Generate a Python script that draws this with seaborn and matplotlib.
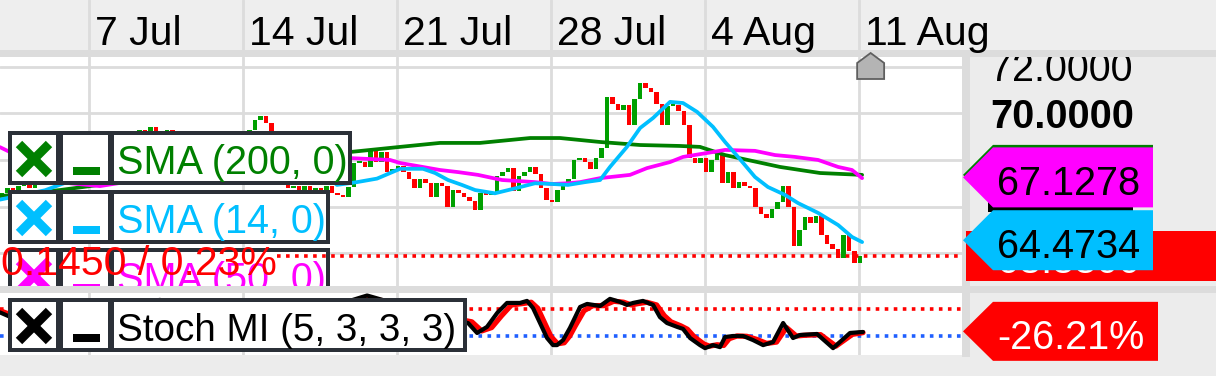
import matplotlib
matplotlib.use("Agg")
import matplotlib.pyplot as plt
import matplotlib.patches as mpatches
import pandas as pd
import seaborn as sns

# ---------------- data ----------------
# x axis is "days since 30 Jun"
date_ticks = [7, 14, 21, 28, 35, 42]
date_labels = ['7 Jul', '14 Jul', '21 Jul', '28 Jul', '4 Aug', '11 Aug']
price_grid = [64, 66, 68, 70, 72]
price_labels = ['72.0000', '70.0000']

first_open = 66.4
closes = [66.6, 66.8, 66.5, 66.9, 67.1, 66.8, 67.2, 67.5, 67.3, 67.8, 68.0,
          67.9, 68.3, 68.1, 68.6, 68.4, 68.8, 68.5, 68.9, 68.7, 69.0, 68.6, 68.9, 69.1, 68.8, 69.3,
          69.2, 69.4, 68.9, 69.2, 69.3, 68.9, 68.7, 69.0, 68.8, 68.6, 68.9, 68.7, 69.0, 68.8, 69.1,
          68.9, 69.2, 69.0, 68.8, 69.3, 69.7, 69.9,
          69.6, 68.4, 67.6, 67.0, 66.8, 66.9, 66.7, 66.9, 66.6, 66.8, 66.7, 66.9, 66.6, 66.5,
          66.4, 66.85, 67.85, 67.9, 67.7, 68.4, 67.9, 68.35, 67.5, 67.6, 67.75, 67.5, 67.2, 66.8,
          67.2, 67.0, 66.4, 67.0, 66.9, 66.0,
          66.7, 66.6, 66.4, 66.25, 65.85, 66.6, 66.5, 66.6, 67.3, 67.5, 67.65, 66.65, 67.3, 67.5,
          67.7, 67.4, 66.8, 66.3, 66.2, 66.7, 66.9, 67.2, 68.0, 68.1, 67.9, 67.6, 68.1, 68.5,
          70.7, 70.4, 70.15, 70.35, 69.5, 70.6, 71.3, 71.1, 70.9, 70.4, 69.5, 70.3, 70.35, 70.1,
          69.5, 68.1, 67.85, 68.1, 67.5, 68.0, 68.3,
          67.0, 67.5, 66.8, 67.05, 66.9, 66.8, 66.0, 65.7, 65.5, 65.9, 66.2, 66.9, 66.0, 64.3,
          65.0, 65.55, 65.3, 65.6, 64.8, 64.4, 64.2, 63.8, 64.8, 64.1, 63.6, 63.88]
bar_step = 0.25
last_bar_day = 42.05

sma200_day = [2.95, 5.68, 8.41, 12.05, 15.68, 18.86, 21.14, 22.95, 24.77, 27.05, 28.41, 30.23,
              32.05, 33.86, 34.77, 35.91, 38.41, 40.23, 42.14]
sma200_val = [66.45, 66.71, 67.05, 67.48, 67.91, 68.34, 68.56, 68.73, 68.73, 68.94, 68.94, 68.77,
              68.64, 68.60, 68.56, 68.21, 67.70, 67.44, 67.36]

sma14_day = [2.95, 5.0, 7.0, 9.0, 11.0, 13.0, 15.0, 16.0, 17.0, 18.27, 19.18, 20.09, 21.14, 22.18,
             22.73, 23.32, 23.95, 24.55, 25.45, 26.36, 27.27, 28.05, 28.77, 29.55, 30.23, 30.68,
             31.45, 32.05, 32.64, 33.41, 34.0, 34.64, 35.36, 35.91, 36.5, 37.27, 37.86, 38.64,
             39.23, 40.14, 41.05, 41.68, 41.95, 42.14]
sma14_val = [66.3, 66.7, 67.4, 68.2, 68.7, 68.9, 69.0, 68.8, 68.0, 66.93, 67.05, 67.2, 67.62, 67.62,
             67.44, 67.14, 66.93, 66.71, 66.57, 66.78, 67.0, 66.97, 66.93, 67.05, 67.14, 67.7,
             68.56, 69.37, 69.8, 70.49, 70.44, 70.06, 69.42, 68.77, 68.13, 67.27, 66.84, 66.5,
             66.15, 65.73, 65.21, 64.7, 64.57, 64.48]

sma50_day = [2.95, 3.86, 5.0, 6.14, 7.5, 8.64, 10.5, 12.05, 14.5, 16.6, 18.86, 20.68, 21.14, 22.95,
             23.77, 24.68, 25.77, 27.27, 28.05, 28.77, 29.32, 30.23, 31.59, 32.36, 33.41, 34.0,
             35.36, 35.91, 37.27, 38.18, 39.09, 40.14, 41.05, 41.68, 42.14]
sma50_val = [68.55, 68.13, 67.57, 67.0, 66.88, 67.05, 67.35, 67.6, 67.9, 68.05, 68.08, 68.0, 67.87,
             67.57, 67.48, 67.36, 67.14, 67.05, 66.97, 67.0, 67.05, 67.22, 67.36, 67.65, 67.91,
             68.13, 68.34, 68.43, 68.39, 68.21, 68.13, 68.0, 67.7, 67.57, 67.22]

smi_day = [2.95, 4.77, 6.59, 8.41, 10.23, 12.05, 13.86, 15.68, 17.5, 19.64, 21.14, 22.95, 24.23,
           24.64, 25.09, 25.55, 26.0, 26.59, 26.91, 27.18, 27.5, 27.82, 28.09, 28.27, 28.55, 28.86,
           29.32, 29.64, 30.23, 30.68, 31.14, 31.45, 31.73, 32.18, 32.64, 32.95, 33.27, 33.73, 34.0,
           34.32, 34.77, 35.0, 35.36, 35.68, 35.91, 36.27, 36.73, 37.18, 37.64, 38.09, 38.55, 39.0,
           39.32, 40.09, 40.82, 41.59, 42.18]
smi_val = [30, -22, 7, 52, 67, 22, -37, -22, 37, 80, 52, 13, -1.5, -31, -13, 28, 58, 58, 64, 43,
           -1.5, -46, -67, -67, -52, -16, 46, 55, 49, 70, 61, 52, 58, 64, 52, 16, -1.5, -13, -19,
           -46, -67, -76, -67, -73, -43, -40, -40, -52, -67, -58, -1.5, -46, -37, -34, -76, -31, -28]
sig_day = [2.95, 5.0, 6.8, 8.6, 10.5, 12.3, 14.0, 15.9, 17.7, 19.8, 21.3, 23.1, 24.4, 24.85, 25.3,
           25.75, 26.2, 26.8, 27.1, 27.4, 27.7, 28.0, 28.3, 28.6, 28.85, 29.1, 29.5, 29.9, 30.4,
           30.85, 31.3, 31.65, 31.95, 32.35, 32.8, 33.15, 33.45, 33.9, 34.2, 34.5, 34.95, 35.2,
           35.55, 35.85, 36.1, 36.45, 36.9, 37.35, 37.8, 38.25, 38.7, 39.15, 39.5, 40.25, 40.95,
           41.7, 42.18]
sig_val = [35, -15, 0, 45, 62, 28, -30, -25, 30, 70, 55, 18, 2, -25, -15, 20, 52, 57, 60, 42, 0,
           -42, -63, -60, -40, -10, 35, 50, 50, 63, 60, 52, 56, 60, 52, 20, 2, -10, -20, -42, -64,
           -70, -66, -68, -48, -40, -41, -50, -62, -58, -15, -40, -38, -36, -70, -35, -30]
smi_levels = [40, -40]

change_text = '0.1450 / 0.23%'
tag_sma50 = '67.1278'
tag_sma14 = '64.4734'
tag_price = '63.8800'
tag_smi = '-26.21%'

# ---------------- styling ----------------
sns.set_style('white')
plt.rcParams['font.family'] = ['Liberation Sans', 'DejaVu Sans']

W, H = 1216, 376
GRID = '#dcdcdc'
GREEN_C, RED_C = '#00a000', '#ff0000'
BOX = '#2b3038'
DOTS = (1, 1.5)

fig = plt.figure(figsize=(W / 100, H / 100), dpi=100, facecolor='#ececec')
ax = fig.add_axes([0, (H - 286) / H, 962 / W, 229 / H])
ax2 = fig.add_axes([0, (H - 355) / H, 962 / W, 62 / H])
ov = fig.add_axes([0, 0, 1, 1], zorder=5)
ov.set_xlim(0, W)
ov.set_ylim(H, 0)
ov.axis('off')
ov.patch.set_alpha(0)

for a in (ax, ax2):
    a.set_facecolor('white')
    a.set_xticks([])
    a.set_yticks([])
    for s in a.spines.values():
        s.set_visible(False)
    a.set_xlim(2.9545, 46.68)
    for d in date_ticks:
        a.axvline(d, color=GRID, lw=2, zorder=1)
ax.set_ylim(62.597, 72.413)
ax2.set_ylim(-96.3, 87.4)
for p in price_grid:
    ax.axhline(p, color=GRID, lw=2, zorder=1)

# candles
n = len(closes)
bars = pd.DataFrame({'close': closes})
bars['day'] = [last_bar_day - bar_step * (n - 1 - i) for i in range(n)]
bars['open'] = [first_open] + closes[:-1]
bars['bottom'] = bars[['open', 'close']].min(axis=1)
bars['height'] = (bars['close'] - bars['open']).abs().clip(lower=0.09)
bars['color'] = [GREEN_C if c >= o else RED_C for o, c in zip(bars['open'], bars['close'])]
ax.bar(bars['day'], bars['height'], bottom=bars['bottom'], width=0.2,
       color=bars['color'], linewidth=0, zorder=3)

sns.lineplot(x=sma200_day, y=sma200_val, ax=ax, color='#008000', lw=2.7, estimator=None, sort=False, zorder=4)
sns.lineplot(x=sma50_day, y=sma50_val, ax=ax, color='#ff00ff', lw=2.7, estimator=None, sort=False, zorder=5)
sns.lineplot(x=sma14_day, y=sma14_val, ax=ax, color='#00bfff', lw=2.7, estimator=None, sort=False, zorder=6)
ax.axhline(closes[-1], xmin=277 / 962, color=RED_C, lw=2.6, dashes=DOTS, zorder=25)

ax2.axhline(smi_levels[0], color=RED_C, lw=2.6, dashes=DOTS, zorder=2)
ax2.axhline(smi_levels[1], color='#1f5fff', lw=2.6, dashes=DOTS, zorder=2)
sns.lineplot(x=sig_day, y=sig_val, ax=ax2, color=RED_C, lw=3.8, estimator=None, sort=False, zorder=3)
sns.lineplot(x=smi_day, y=smi_val, ax=ax2, color='black', lw=3.0, estimator=None, sort=False, zorder=4)
for a in (ax, ax2):
    a.set_xlabel('')
    a.set_ylabel('')


def to_px(a, x, y):
    X, Y = a.transData.transform((x, y))
    return X, H - Y


T = ov.transData

# legend boxes (drawn inside their panes so they get clipped)
def legend_box(a, top, right, color, label, fs):
    a.add_patch(mpatches.Rectangle((8, top), right - 8, 54, transform=T, fc=BOX, ec='none', zorder=20))
    for x0, x1 in [(12, 56), (63, 108), (114, right - 4)]:
        a.add_patch(mpatches.Rectangle((x0, top + 4), x1 - x0, 46, transform=T, fc='white', ec='none', zorder=21))
    a.plot([19, 49], [top + 13, top + 43], transform=T, color=color, lw=6.5, solid_capstyle='butt', zorder=22)
    a.plot([19, 49], [top + 43, top + 13], transform=T, color=color, lw=6.5, solid_capstyle='butt', zorder=22)
    a.add_patch(mpatches.Rectangle((73, top + 36), 27, 8, transform=T, fc=color, ec='none', zorder=22))
    a.text(117, top + 43, label, transform=T, color=color, fontsize=fs, va='baseline', ha='left', zorder=23)


legend_box(ax, 131, 352, '#008000', 'SMA (200, 0)', 28.5)
legend_box(ax, 190, 330, '#00bfff', 'SMA (14, 0)', 28.5)
legend_box(ax, 248, 330, '#ff00ff', 'SMA (50, 0)', 28.5)
legend_box(ax2, 298, 467, 'black', 'Stoch MI (5, 3, 3, 3)', 27.8)
ax.text(1, 275, change_text, transform=T, color=RED_C, fontsize=29.5, va='baseline', ha='left', zorder=30)

# right price labels (under the header)
for val, lab in zip([72, 70], price_labels):
    _, yp = to_px(ax, 3, val)
    ov.text(990, yp + 14.5, lab, fontsize=28.5, va='baseline', ha='left', color='black',
            fontweight='bold' if lab.startswith('70') else 'normal', zorder=0.5)

# frame bands and header
ov.add_patch(mpatches.Rectangle((0, 0), W, 50, fc='#eeeeee', ec='none', zorder=1))
ov.add_patch(mpatches.Rectangle((0, 50), W, 7, fc=GRID, ec='none', zorder=1))
ov.add_patch(mpatches.Rectangle((0, 286), W, 7, fc=GRID, ec='none', zorder=1))
ov.add_patch(mpatches.Rectangle((962, 57), 8, 300, fc=GRID, ec='none', zorder=1))
for d, lab in zip(date_ticks, date_labels):
    xp, _ = to_px(ax, d, 70)
    ov.plot([xp, xp], [0, 50], color=GRID, lw=2, zorder=1.5)
    ov.text(xp + 6, 45, lab, fontsize=29.5, va='baseline', ha='left', color='black', zorder=2)

# current bar marker
xl, _ = to_px(ax, last_bar_day, 70)
ov.add_patch(mpatches.Polygon([(xl - 3, 79), (xl + 24, 79), (xl + 24, 63), (xl + 10.5, 53), (xl - 3, 63)],
                              closed=True, fc='#b4b4b4', ec='#5f5f5f', lw=1.3, zorder=8))


def tag(cy, color, text, tcolor, right=1153, half=30, z=3):
    pts = [(963, cy), (993, cy - half), (right, cy - half), (right, cy + half), (993, cy + half)]
    ov.add_patch(mpatches.Polygon(pts, closed=True, fc=color, ec='none', zorder=z))
    if text:
        ov.text(997, cy + 18, text, fontsize=28.5, color=tcolor, va='baseline', ha='left', zorder=z + 0.1)


# last-price box
_, yprice = to_px(ax, 3, closes[-1])
ov.add_patch(mpatches.Rectangle((966, yprice - 25), W - 966, 50, fc=RED_C, ec='none', zorder=2))
ov.text(997, yprice + 17, tag_price, fontsize=28.5, color='white', va='baseline', ha='left', zorder=2.1)
ov.add_patch(mpatches.Rectangle((988, 190), 145, 22, fc='black', ec='none', zorder=2.2))

_, y200 = to_px(ax, 3, sma200_val[-1])
tag(y200, '#008000', '', 'black', z=3)
tag(y200 + 2.5, '#ff00ff', tag_sma50, 'black', z=4)
_, y14 = to_px(ax, 3, float(tag_sma14))
tag(y14 - 2, '#00bfff', tag_sma14, 'black', z=5)
_, ysmi = to_px(ax2, 3, float(tag_smi.rstrip('%')))
tag(ysmi, RED_C, tag_smi, 'white', right=1158, half=29.5, z=5)

fig.savefig('out.png', dpi=100, facecolor=fig.get_facecolor())
